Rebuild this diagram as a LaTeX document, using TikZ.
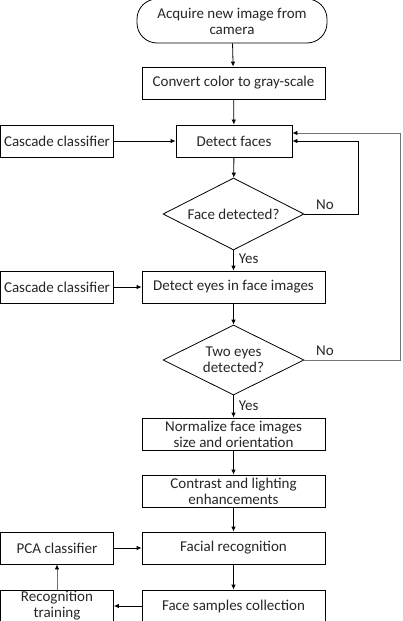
\documentclass[tikz,border=0pt]{standalone}
\usepackage{fontspec}
\setmainfont{Carlito}
\usetikzlibrary{shapes.geometric,arrows.meta}
\begin{document}
\begin{tikzpicture}[x=1pt,y=-1pt,
  font=\fontsize{15}{16}\selectfont,
  every node/.style={text=black!85},
  box/.style={draw=black, line width=0.8pt, rectangle, minimum height=32pt, inner sep=0pt, align=center},
  wide/.style={box, minimum width=183pt},
  side/.style={box, minimum width=113pt},
  term/.style={draw=black, line width=0.8pt, rectangle, rounded corners=20pt, minimum width=190pt, minimum height=44pt, inner sep=0pt, align=center},
  decide/.style={draw=black, line width=0.8pt, diamond, shape aspect=2, minimum width=141pt, minimum height=72pt, inner sep=0pt, align=center},
  flow/.style={line width=0.8pt, -{Latex[length=5pt,width=4.5pt,color=black]}},
  lbl/.style={font=\fontsize{15}{16}\selectfont, inner sep=0pt}
]
\clip (0,0) rectangle (402,621);
\useasboundingbox (0,0) rectangle (402,621);

% main column
\node[term]  (start)    at (232,21)  {Acquire new image from\\camera};
\node[wide]  (gray)     at (233.5,83)  {Convert color to gray-scale};
\node[box, minimum width=116pt] (faces) at (234,141) {Detect faces};
\node[decide] (facedec) at (233.5,214) {Face detected?};
\node[wide]  (eyes)     at (233.5,287) {Detect eyes in face images};
\node[decide, minimum height=70pt] (eyedec) at (233.5,360) {Two eyes\\detected?};
\node[wide]  (norm)     at (233.5,434) {Normalize face images\\size and orientation};
\node[wide]  (contrast) at (233.5,491) {Contrast and lighting\\enhancements};
\node[wide]  (recog)    at (233.5,548) {Facial recognition};
\node[wide]  (samples)  at (233.5,606) {Face samples collection};

% side column
\node[side] (casc1) at (57,141) {Cascade classifier};
\node[side] (casc2) at (57,287) {Cascade classifier};
\node[side] (pca)   at (57,548) {PCA classifier};
\node[side] (train) at (57,606) {Recognition\\training};

% main flow
\draw[flow] (start) -- (gray);
\draw[flow] (gray) -- (faces);
\draw[flow] (faces) -- (facedec);
\draw[flow] (facedec) -- node[lbl, right=5pt, pos=0.4] {Yes} (eyes);
\draw[flow] (eyes) -- (eyedec);
\draw[flow] (eyedec) -- node[lbl, right=5pt, pos=0.45] {Yes} (norm);
\draw[flow] (norm) -- (contrast);
\draw[flow] (contrast) -- (recog);
\draw[flow] (recog) -- (samples);

% classifiers feeding the detectors
\draw[flow] (casc1) -- (faces);
\draw[flow] (casc2) -- (eyes);
\draw[flow] (pca) -- (recog);
\draw[flow] (samples) -- (train);
\draw[flow, draw=black!55] (train) -- (pca);

% retry loops
\coordinate (loopA) at (358,214);
\coordinate (loopB) at (358,141);
\draw[flow] (facedec.east) -- (loopA) -- (loopB) -- (faces.east |- loopB);
\node[lbl] at (325,205) {No};

\coordinate (loopC) at (400.5,360);
\coordinate (loopD) at (400.5,133);
\draw[flow, draw=black!55] (eyedec.east) -- (loopC) -- (loopD) -- (faces.east |- loopD);
\node[lbl] at (325,351) {No};
\end{tikzpicture}
\end{document}
